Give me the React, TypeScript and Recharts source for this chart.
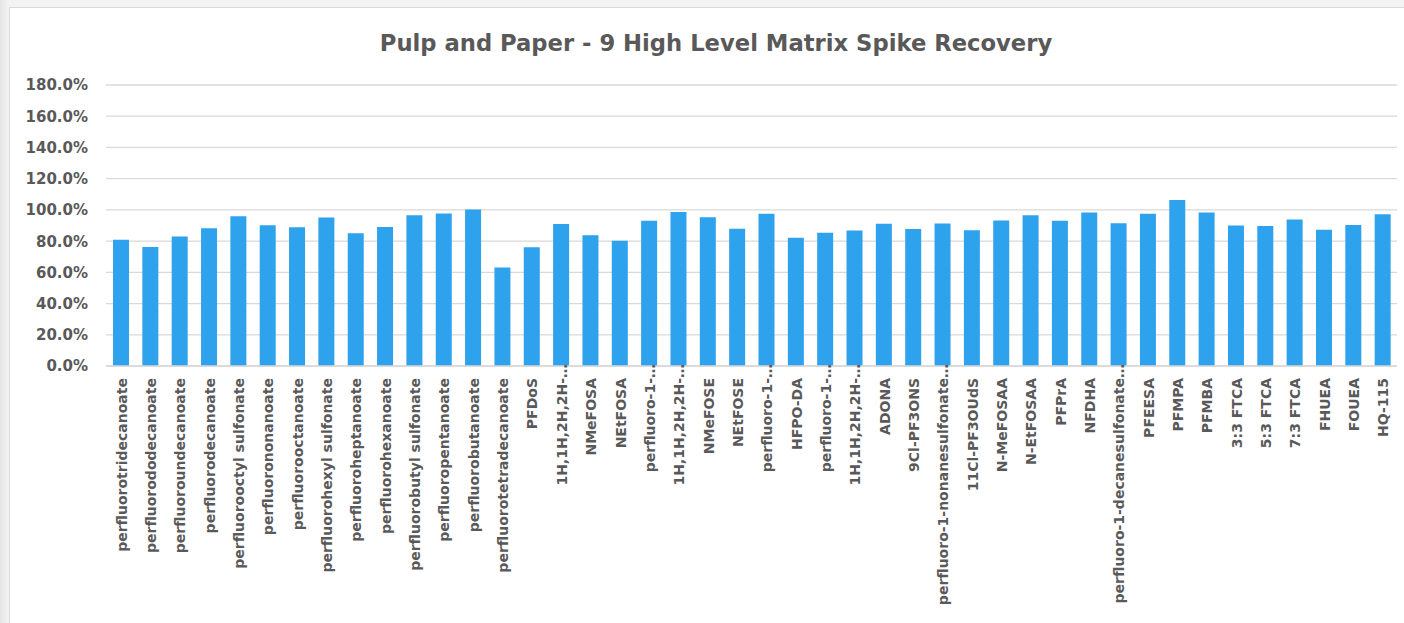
import React from "react";
import { BarChart, Bar, XAxis, YAxis, CartesianGrid } from "recharts";

const TITLE = "Pulp and Paper - 9 High Level Matrix Spike Recovery";

const ANALYTES = [
  "perfluorotridecanoate",
  "perfluorododecanoate",
  "perfluoroundecanoate",
  "perfluorodecanoate",
  "perfluorooctyl sulfonate",
  "perfluorononanoate",
  "perfluorooctanoate",
  "perfluorohexyl sulfonate",
  "perfluoroheptanoate",
  "perfluorohexanoate",
  "perfluorobutyl sulfonate",
  "perfluoropentanoate",
  "perfluorobutanoate",
  "perfluorotetradecanoate",
  "PFDoS",
  "1H,1H,2H,2H-…",
  "NMeFOSA",
  "NEtFOSA",
  "perfluoro-1-…",
  "1H,1H,2H,2H-…",
  "NMeFOSE",
  "NEtFOSE",
  "perfluoro-1-…",
  "HFPO-DA",
  "perfluoro-1-…",
  "1H,1H,2H,2H-…",
  "ADONA",
  "9Cl-PF3ONS",
  "perfluoro-1-nonanesulfonate…",
  "11Cl-PF3OUdS",
  "N-MeFOSAA",
  "N-EtFOSAA",
  "PFPrA",
  "NFDHA",
  "perfluoro-1-decanesulfonate…",
  "PFEESA",
  "PFMPA",
  "PFMBA",
  "3:3 FTCA",
  "5:3 FTCA",
  "7:3 FTCA",
  "FHUEA",
  "FOUEA",
  "HQ-115",
];

// recovery as a fraction of the spiked amount
const RECOVERY = [
  0.808, 0.762, 0.83, 0.882, 0.96, 0.902, 0.889, 0.951, 0.851, 0.891, 0.966,
  0.977, 1.002, 0.631, 0.761, 0.909, 0.838, 0.802, 0.93, 0.987, 0.953, 0.879,
  0.975, 0.821, 0.853, 0.868, 0.911, 0.877, 0.913, 0.87, 0.932, 0.966, 0.93,
  0.983, 0.915, 0.975, 1.064, 0.983, 0.9, 0.896, 0.939, 0.872, 0.904, 0.972,
];

const Y_TICKS = [0, 0.2, 0.4, 0.6, 0.8, 1.0, 1.2, 1.4, 1.6, 1.8];

const data = ANALYTES.map((name, i) => ({ name, recovery: RECOVERY[i] }));

const FONT = "'DejaVu Sans', sans-serif";
const TEXT = "#595959";

const XTick = (props: any) => {
  const { x, y, payload } = props;
  const label: string = payload.value;
  // truncated names let the ellipsis run up past the axis
  const lift = label.endsWith("…") ? 14 : 0;
  return (
    <text
      transform={`translate(${x + 1},${y + 4 - lift}) rotate(-90)`}
      textAnchor="end"
      dy="0.36em"
      fontFamily={FONT}
      fontWeight="bold"
      fontSize={14}
      fill={TEXT}
    >
      {label}
    </text>
  );
};

const YTick = (props: any) => {
  const { y, payload } = props;
  return (
    <text
      x={88}
      y={y}
      dy="0.36em"
      textAnchor="end"
      fontFamily={FONT}
      fontWeight="bold"
      fontSize={15}
      fill={TEXT}
    >
      {`${(payload.value * 100).toFixed(1)}%`}
    </text>
  );
};

export default function App() {
  return (
    <div
      style={{
        position: "fixed",
        left: 0,
        top: 0,
        width: 1404,
        height: 623,
        background: "linear-gradient(90deg, #e6e6e6 0px, #f3f3f3 9px)",
        overflow: "hidden",
      }}
    >
      <div
        style={{
          position: "absolute",
          left: 9,
          top: 7,
          width: 1410,
          height: 630,
          background: "#ffffff",
          border: "1px solid #d9d9d9",
        }}
      />
      <svg width={1404} height={70} style={{ position: "absolute", left: 0, top: 0 }}>
        <text
          x={716}
          y={51}
          textAnchor="middle"
          fontFamily={FONT}
          fontWeight="bold"
          fontSize={22.7}
          fill={TEXT}
        >
          {TITLE}
        </text>
      </svg>
      <div style={{ position: "absolute", left: 0, top: 0 }}>
        <BarChart
          width={1404}
          height={623}
          data={data}
          margin={{ top: 85, right: 7, bottom: 0, left: 0 }}
        >
          <CartesianGrid vertical={false} stroke="#d9d9d9" strokeWidth={1.3} />
          <XAxis
            dataKey="name"
            interval={0}
            height={257}
            tickLine={false}
            axisLine={{ stroke: "#d9d9d9", strokeWidth: 1.3 }}
            tick={<XTick />}
          />
          <YAxis
            width={106}
            domain={[0, 1.8]}
            ticks={Y_TICKS}
            interval={0}
            tickLine={false}
            axisLine={false}
            tick={<YTick />}
          />
          <Bar
            dataKey="recovery"
            fill="#2ea2ec"
            barSize={16}
            isAnimationActive={false}
          />
        </BarChart>
      </div>
    </div>
  );
}
